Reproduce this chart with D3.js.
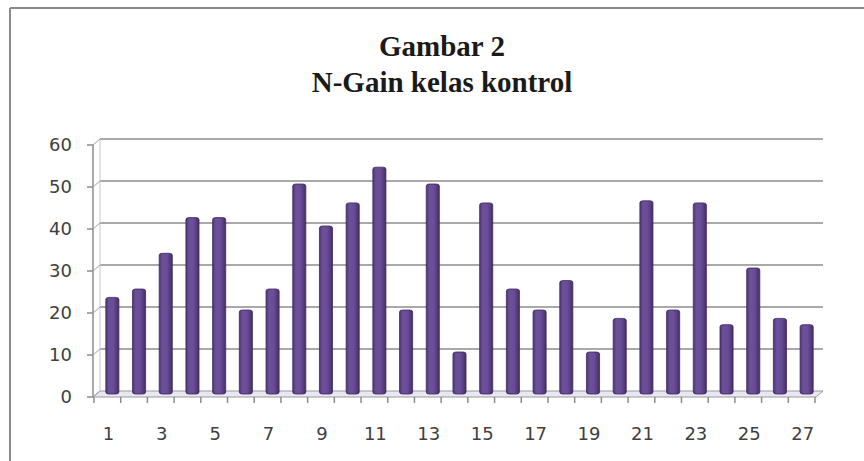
<!DOCTYPE html>
<html>
<head>
<meta charset="utf-8">
<script src="https://cdn.jsdelivr.net/npm/d3@7"></script>
<style>
    body { margin: 0; background: #fff; }
    svg { display: block; }
</style>
</head>
<body>
<svg id="chart" width="864" height="461"></svg>
<script>
// category labels (student no.) and N-Gain values
let students = d3.range(1, 28);
let nGain = [23, 25, 33.5, 42, 42, 20, 25, 50, 40, 45.5,
             54, 20, 50, 10, 45.5, 25, 20, 27, 10, 18,
             46, 20, 45.5, 16.5, 30, 18, 16.5];
let yTicks = [0, 10, 20, 30, 40, 50, 60];
let titleLines = ['Gambar 2', 'N-Gain kelas kontrol'];

let svg = d3.select('#chart');

// 3d offset between back wall and front of the floor
let depthX = -7, depthY = 6;

let y = d3.scaleLinear().domain([0, 60]).range([391, 139]);
let x = d3.scaleBand().domain(students).range([99, 820]).paddingInner(0.51).paddingOuter(0.255);
let backLeft = 100, backRight = 823;

// outer frame (top and left only visible)
svg.append('line').attr('x1', 10).attr('x2', 864).attr('y1', 8).attr('y2', 8)
    .attr('stroke', '#8a8a8a').attr('stroke-width', 2);
svg.append('line').attr('x1', 10).attr('x2', 10).attr('y1', 8).attr('y2', 461)
    .attr('stroke', '#8a8a8a').attr('stroke-width', 2);

// title
svg.append('text')
    .attr('x', 442).attr('y', 56)
    .attr('text-anchor', 'middle')
    .style('font-family', '"Liberation Serif", "Times New Roman", serif')
    .style('font-weight', 'bold')
    .style('font-size', '29px')
    .style('fill', '#1a1a1a')
    .selectAll('tspan').data(titleLines).enter().append('tspan')
    .attr('x', 442).attr('dy', (d, i) => i == 0 ? 0 : 36)
    .text(d => d);

// floor
let floor = [[backLeft, y(0)], [backRight, y(0)], [backRight + depthX, y(0) + depthY], [backLeft + depthX, y(0) + depthY]];
svg.append('polygon')
    .attr('points', floor.map(p => p.join(',')).join(' '))
    .attr('fill', '#e9e7f1').attr('stroke', '#9a9a9a').attr('stroke-width', 1);

// back wall gridlines
svg.append('g').selectAll('line').data(yTicks.filter(d => d > 0)).enter().append('line')
    .attr('x1', backLeft).attr('x2', backRight)
    .attr('y1', d => y(d)).attr('y2', d => y(d))
    .attr('stroke', '#8c8c8c').attr('stroke-width', 1.5);

// left wall: back edge, front axis and the slanted connectors
svg.append('line').attr('x1', backLeft).attr('x2', backLeft).attr('y1', y(60)).attr('y2', y(0))
    .attr('stroke', '#c8c8c8').attr('stroke-width', 1);
svg.append('line')
    .attr('x1', backLeft + depthX).attr('x2', backLeft + depthX)
    .attr('y1', y(60) + depthY).attr('y2', y(0) + depthY)
    .attr('stroke', '#8c8c8c').attr('stroke-width', 1.5);

let yAxis = svg.append('g').selectAll('g').data(yTicks).enter().append('g');
yAxis.append('line')
    .attr('x1', backLeft + depthX).attr('x2', backLeft)
    .attr('y1', d => y(d) + depthY).attr('y2', d => y(d))
    .attr('stroke', '#a0a0a0').attr('stroke-width', 1);
yAxis.append('line')
    .attr('x1', backLeft + depthX - 6).attr('x2', backLeft + depthX)
    .attr('y1', d => y(d) + depthY).attr('y2', d => y(d) + depthY)
    .attr('stroke', '#8c8c8c').attr('stroke-width', 1.5);
yAxis.append('text')
    .attr('x', 72).attr('y', d => y(d) + depthY + 6)
    .attr('text-anchor', 'end')
    .style('font-family', '"DejaVu Sans", sans-serif')
    .style('font-size', '18px')
    .style('fill', '#404040')
    .text(d => d);

// x ticks on the front edge of the floor, at category boundaries
let step = x.step();
let boundaries = d3.range(0, students.length + 1).map(i => x(1) - x.paddingOuter() * step + i * step + depthX + 2);
svg.append('g').selectAll('line').data(boundaries).enter().append('line')
    .attr('x1', d => d).attr('x2', d => d)
    .attr('y1', y(0) + depthY).attr('y2', y(0) + depthY + 6)
    .attr('stroke', '#8c8c8c').attr('stroke-width', 1.5);

// bars
let grad = svg.append('defs').append('linearGradient').attr('id', 'barGrad')
    .attr('x1', '0%').attr('x2', '100%');
grad.append('stop').attr('offset', '0%').attr('stop-color', '#4e3677');
grad.append('stop').attr('offset', '25%').attr('stop-color', '#6d509a');
grad.append('stop').attr('offset', '60%').attr('stop-color', '#6a4c96');
grad.append('stop').attr('offset', '100%').attr('stop-color', '#442e68');

svg.append('g').selectAll('rect').data(nGain).enter().append('rect')
    .attr('x', (d, i) => x(students[i]))
    .attr('y', d => y(d) + depthY / 2)
    .attr('width', x.bandwidth())
    .attr('height', d => y(0) - y(d))
    .attr('rx', 3).attr('ry', 2)
    .attr('fill', 'url(#barGrad)')
    .attr('stroke', '#3e2a5e').attr('stroke-width', 0.8);

// x labels, every other category
svg.append('g').selectAll('text').data(students.filter(d => d % 2 == 1)).enter().append('text')
    .attr('x', d => x(d) + x.bandwidth() / 2 - 4)
    .attr('y', 440)
    .attr('text-anchor', 'middle')
    .style('font-family', '"DejaVu Sans", sans-serif')
    .style('font-size', '18px')
    .style('fill', '#404040')
    .text(d => d);
</script>
</body>
</html>
